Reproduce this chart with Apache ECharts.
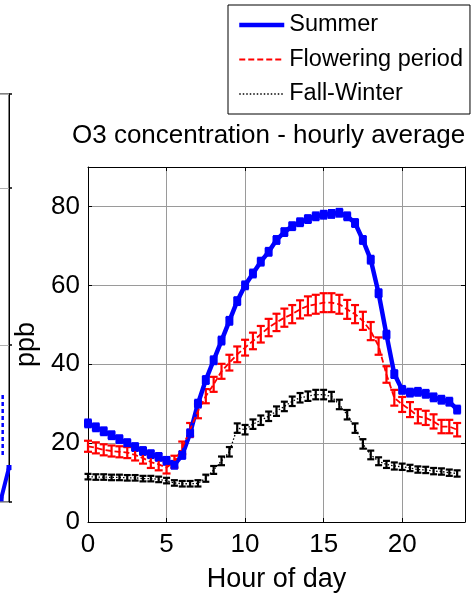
<!DOCTYPE html>
<html>
<head>
<meta charset="utf-8">
<script src="https://cdn.jsdelivr.net/npm/echarts@6/dist/echarts.min.js"></script>
<style>
  html, body { margin: 0; padding: 0; background: #fff; }
  #chart { width: 471px; height: 598px; }
</style>
</head>
<body>
<div id="chart"></div>
<script>
// half-hourly averages (ppb)
const hours = [0, 0.5, 1, 1.5, 2, 2.5, 3, 3.5, 4, 4.5, 5, 5.5,
  6, 6.5, 7, 7.5, 8, 8.5, 9, 9.5, 10, 10.5, 11, 11.5,
  12, 12.5, 13, 13.5, 14, 14.5, 15, 15.5, 16, 16.5, 17, 17.5,
  18, 18.5, 19, 19.5, 20, 20.5, 21, 21.5, 22, 22.5, 23, 23.5];

const summer = [25.0, 24.0, 23.0, 22.0, 21.0, 20.0, 19.0, 18.0, 17.2, 16.5, 15.5, 14.5,
  17.0, 22.5, 30.0, 36.0, 41.0, 46.0, 51.0, 56.0, 60.0, 63.0, 66.0, 68.5,
  71.5, 73.5, 75.0, 76.0, 76.8, 77.5, 77.9, 78.1, 78.4, 77.5, 75.8, 71.5,
  66.5, 58.0, 47.5, 37.5, 33.5, 32.8, 33.0, 32.5, 31.6, 31.0, 30.5, 28.5];
const summerErr = [1.0, 1.0, 1.0, 1.0, 1.0, 1.0, 1.0, 1.0, 1.0, 1.0, 1.0, 1.0,
  1.0, 1.0, 1.0, 1.0, 1.0, 1.0, 1.0, 1.0, 1.0, 1.0, 1.0, 1.0,
  1.0, 1.0, 1.0, 1.0, 1.0, 1.0, 1.0, 1.0, 1.0, 1.0, 1.0, 1.0,
  1.0, 1.0, 1.0, 1.0, 1.0, 1.0, 1.0, 1.0, 1.0, 1.0, 1.0, 1.0];

const flowering = [19.2, 18.8, 18.3, 18.0, 17.8, 17.6, 17.0, 16.2, 15.2, 14.6, 13.8, 15.3,
  18.8, 23.4, 28.1, 31.9, 34.9, 38.2, 40.4, 42.5, 44.2, 45.9, 47.6, 49.3,
  50.6, 51.8, 52.7, 53.9, 54.8, 55.2, 55.6, 55.6, 55.2, 53.9, 52.7, 51.0,
  48.4, 44.6, 37.4, 31.5, 29.8, 28.5, 26.8, 26.4, 25.5, 24.2, 24.2, 23.4];
const floweringErr = [1.4, 1.4, 1.4, 1.4, 1.4, 1.4, 1.4, 1.4, 1.5, 1.5, 1.5, 1.5,
  1.6, 1.7, 1.8, 1.8, 1.9, 1.9, 2.0, 2.0, 2.0, 2.1, 2.1, 2.2,
  2.2, 2.3, 2.3, 2.3, 2.4, 2.4, 2.4, 2.4, 2.4, 2.4, 2.3, 2.3,
  2.3, 2.2, 2.1, 2.0, 1.9, 1.9, 1.8, 1.8, 1.8, 1.7, 1.7, 1.7];

const fallWinter = [11.5, 11.4, 11.4, 11.3, 11.3, 11.2, 11.2, 11.0, 11.0, 10.8, 10.5, 9.9,
  9.7, 9.7, 9.8, 11.1, 13.2, 15.5, 17.8, 23.8, 23.4, 24.8, 25.8, 26.8,
  28.1, 29.3, 30.6, 31.5, 31.9, 32.3, 32.3, 31.8, 29.8, 27.2, 23.8, 19.8,
  17.0, 15.4, 14.6, 14.2, 14.0, 13.7, 13.3, 13.2, 12.9, 12.8, 12.5, 12.3];
const fallWinterErr = [0.7, 0.7, 0.7, 0.7, 0.7, 0.7, 0.7, 0.7, 0.7, 0.7, 0.7, 0.7,
  0.7, 0.7, 0.8, 0.9, 1.0, 1.1, 1.2, 1.2, 1.2, 1.2, 1.2, 1.2,
  1.2, 1.2, 1.2, 1.2, 1.2, 1.2, 1.2, 1.2, 1.2, 1.2, 1.2, 1.2,
  1.1, 1.0, 0.9, 0.9, 0.8, 0.8, 0.8, 0.8, 0.8, 0.8, 0.8, 0.8];

// the visible sliver of the neighbouring panel on the left
const fragHours = [23.0, 23.5, 24.0];
const fragValues = [0.01, 0.02, 0.22];
const fragErrHours = [23.6];
const fragErrLow = [0.3];
const fragErrHigh = [0.69];

const FONT = "'Liberation Sans', Arial, sans-serif";
const BLUE = "#0000ff";
const RED = "#ff0000";
const BLACK = "#000000";

const chart = echarts.init(document.getElementById("chart"));

const pairs = (ys) => hours.map((h, i) => [h, ys[i]]);
const errRows = (ys, errs) => hours.map((h, i) => [h, ys[i] - errs[i], ys[i] + errs[i]]);

// vertical error bar with caps, drawn through the axis scales
const errorBar = (capHalf, width, color, dash) => (params, api) => {
  const x = api.value(0);
  const lo = api.coord([x, api.value(1)]);
  const hi = api.coord([x, api.value(2)]);
  const style = { stroke: color, lineWidth: width, lineDash: dash || null };
  const children = [{ type: "line", shape: { x1: lo[0], y1: lo[1], x2: hi[0], y2: hi[1] }, style }];
  if (capHalf > 0) {
    children.push({ type: "line", shape: { x1: lo[0] - capHalf, y1: lo[1], x2: lo[0] + capHalf, y2: lo[1] }, style });
    children.push({ type: "line", shape: { x1: hi[0] - capHalf, y1: hi[1], x2: hi[0] + capHalf, y2: hi[1] }, style });
  }
  return { type: "group", children };
};

const blackLine = { lineStyle: { color: BLACK, width: 1 } };
const inTick = { show: true, inside: true, length: 4, lineStyle: { color: BLACK, width: 1 } };

const option = {
  animation: false,
  backgroundColor: "#fff",
  textStyle: { fontFamily: FONT },
  title: {
    text: "O3 concentration - hourly average",
    left: 72,
    top: 123,
    padding: 0,
    textStyle: { fontFamily: FONT, fontSize: 26, fontWeight: "normal", color: BLACK },
  },
  legend: {
    data: [
      { name: "Summer", lineStyle: { width: 4.5 } },
      { name: "Flowering period", lineStyle: { width: 1.8 } },
      { name: "Fall-Winter", lineStyle: { width: 1.3 } },
    ],
    orient: "vertical",
    left: 228,
    top: 5,
    padding: [8, 7, 8, 9],
    itemWidth: 45,
    itemHeight: 14,
    itemGap: 10.5,
    borderColor: BLACK,
    borderWidth: 1,
    backgroundColor: "#fff",
    itemStyle: { opacity: 0 },
    textStyle: { fontFamily: FONT, fontSize: 23.5, lineHeight: 20, color: BLACK },
  },
  grid: [
    { left: 88, right: 6, top: 167, bottom: 76, outerBoundsMode: "none" },
    { left: -370, width: 379, top: 94, bottom: 96, show: true, borderColor: BLACK, borderWidth: 1, outerBoundsMode: "none" },
  ],
  xAxis: [
    {
      gridIndex: 0,
      type: "value",
      min: 0,
      max: 24,
      interval: 5,
      position: "bottom",
      axisLine: { onZero: false, ...blackLine },
      axisTick: inTick,
      axisLabel: { fontFamily: FONT, fontSize: 26, color: BLACK, margin: 10, showMaxLabel: false },
      splitLine: { show: true, lineStyle: { color: "#9a9a9a", width: 1 } },
      name: "Hour of day",
      nameLocation: "middle",
      nameGap: 44,
      nameTextStyle: { fontFamily: FONT, fontSize: 27, color: BLACK },
    },
    {
      gridIndex: 0,
      type: "value",
      min: 0,
      max: 24,
      interval: 5,
      position: "top",
      axisLine: { onZero: false, ...blackLine },
      axisTick: inTick,
      axisLabel: { show: false },
      splitLine: { show: false },
    },
    { gridIndex: 1, type: "value", min: 0, max: 24, show: false },
  ],
  yAxis: [
    {
      gridIndex: 0,
      type: "value",
      min: 0,
      max: 90,
      interval: 20,
      position: "left",
      axisLine: { show: true, onZero: false, ...blackLine },
      axisTick: inTick,
      axisLabel: { fontFamily: FONT, fontSize: 26, color: BLACK, margin: 8, showMaxLabel: false },
      splitLine: { show: true, lineStyle: { color: "#9a9a9a", width: 1 } },
      name: "ppb",
      nameLocation: "middle",
      nameGap: 43,
      nameTextStyle: { fontFamily: FONT, fontSize: 27, color: BLACK },
    },
    {
      gridIndex: 0,
      type: "value",
      min: 0,
      max: 90,
      interval: 20,
      position: "right",
      axisLine: { show: true, onZero: false, ...blackLine },
      axisTick: inTick,
      axisLabel: { show: false },
      splitLine: { show: false },
    },
    {
      gridIndex: 1,
      type: "value",
      min: 0,
      max: 2.6,
      interval: 1,
      position: "right",
      axisLine: { show: true, onZero: false, ...blackLine },
      axisTick: { show: true, inside: false, length: 3, lineStyle: { color: BLACK, width: 1.5 } },
      axisLabel: { show: false },
      splitLine: { show: true, lineStyle: { color: "#b0b0b0", width: 1 } },
    },
  ],
  series: [
    {
      name: "Summer",
      type: "line",
      xAxisIndex: 0,
      yAxisIndex: 0,
      data: pairs(summer),
      symbol: "rect",
      symbolSize: 8,
      itemStyle: { color: BLUE },
      lineStyle: { color: BLUE, width: 4.5 },
    },
    {
      name: "summer error",
      type: "custom",
      xAxisIndex: 0,
      yAxisIndex: 0,
      data: errRows(summer, summerErr),
      encode: { x: 0, y: [1, 2] },
      renderItem: errorBar(3.5, 2, BLUE),
    },
    {
      name: "Flowering period",
      type: "line",
      xAxisIndex: 0,
      yAxisIndex: 0,
      data: pairs(flowering),
      symbol: "none",
      itemStyle: { color: RED },
      lineStyle: { color: RED, width: 1.8, type: [6, 3] },
    },
    {
      name: "flowering error",
      type: "custom",
      xAxisIndex: 0,
      yAxisIndex: 0,
      data: errRows(flowering, floweringErr),
      encode: { x: 0, y: [1, 2] },
      renderItem: errorBar(4, 2.2, RED),
    },
    {
      name: "Fall-Winter",
      type: "line",
      xAxisIndex: 0,
      yAxisIndex: 0,
      data: pairs(fallWinter),
      symbol: "none",
      itemStyle: { color: BLACK },
      lineStyle: { color: BLACK, width: 1.3, type: [1.5, 2] },
    },
    {
      name: "fall-winter error",
      type: "custom",
      xAxisIndex: 0,
      yAxisIndex: 0,
      data: errRows(fallWinter, fallWinterErr),
      encode: { x: 0, y: [1, 2] },
      renderItem: errorBar(3.5, 2.2, BLACK),
    },
    {
      name: "left panel",
      type: "line",
      xAxisIndex: 2,
      yAxisIndex: 2,
      data: fragHours.map((h, i) => [h, fragValues[i]]),
      symbol: "rect",
      symbolSize: 5,
      itemStyle: { color: BLUE },
      lineStyle: { color: BLUE, width: 4 },
    },
    {
      name: "left panel error",
      type: "custom",
      xAxisIndex: 2,
      yAxisIndex: 2,
      data: fragErrHours.map((h, i) => [h, fragErrLow[i], fragErrHigh[i]]),
      encode: { x: 0, y: [1, 2] },
      renderItem: errorBar(0, 2.5, BLUE, [4, 3]),
    },
  ],
};

chart.setOption(option);
window.addEventListener("resize", () => chart.resize());
</script>
</body>
</html>
